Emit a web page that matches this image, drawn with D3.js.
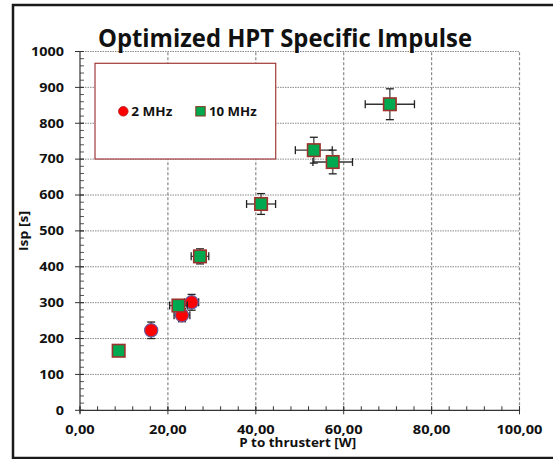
<!DOCTYPE html>
<html><head><meta charset="utf-8">
<script src="https://cdn.jsdelivr.net/npm/d3@7"></script>
<style>
html,body{margin:0;padding:0;background:#fff;}
svg text{font-family:"Open Sans",sans-serif;font-weight:700;fill:#111;}
</style></head>
<body>
<svg id="c" width="553" height="459"></svg>
<script>
// ---- data ----
const titleText = "Optimized HPT Specific Impulse";
const xLabel = "P to thrustert [W]";
const yLabel = "Isp [s]";
const seriesNames = ["2 MHz", "10 MHz"];
const xTicks = [0, 20, 40, 60, 80, 100];
const yTicks = [0, 100, 200, 300, 400, 500, 600, 700, 800, 900, 1000];
const mhz2X    = [16.2, 23.2, 25.4];
const mhz2Y    = [223, 265, 301];
const mhz2XErr = [0, 1.8, 1.6];
const mhz2YErr = [23, 18, 22];
const mhz10X    = [8.8, 22.4, 27.3, 41.2, 53.2, 57.5, 70.5];
const mhz10Y    = [166, 292, 429, 575, 725, 692, 853];
const mhz10XErr = [0, 2.0, 2.0, 3.3, 4.2, 4.5, 5.6];
const mhz10YErr = [0, 10, 21, 29, 36, 33, 43];

const svg = d3.select("#c");
const x = d3.scaleLinear().domain([0, 100]).range([80, 519.5]);
const y = d3.scaleLinear().domain([0, 1000]).range([410.3, 51.5]);

function stretch(sel, f){
  sel.each(function(){
    const w = this.getComputedTextLength();
    d3.select(this).attr("textLength", w*f).attr("lengthAdjust","spacingAndGlyphs");
  });
}

// outer frame
svg.append("rect").attr("x",13).attr("y",5).attr("width",600).attr("height",453)
  .attr("fill","#fff").attr("stroke","#1a1a1a").attr("stroke-width",2.5);

// gridlines
const g = svg.append("g");
g.selectAll("line.h").data(yTicks.slice(1)).join("line")
  .attr("x1", x(0)).attr("x2", x(100)).attr("y1", d=>y(d)).attr("y2", d=>y(d))
  .attr("stroke","#8a8a8a").attr("stroke-width",1).attr("stroke-dasharray","1.5,1");
g.selectAll("line.v").data(xTicks.slice(1)).join("line")
  .attr("x1", d=>x(d)).attr("x2", d=>x(d)).attr("y1", y(0)).attr("y2", y(1000))
  .attr("stroke","#8a8a8a").attr("stroke-width",1.2).attr("stroke-dasharray","3,2");

// axes
const xMinor = d3.range(0, 100.01, 4);
const yMinor = d3.range(0, 1000.01, 20);
const ax = svg.append("g");
ax.selectAll("line.xm").data(xMinor).join("line")
  .attr("x1", d=>x(d)).attr("x2", d=>x(d)).attr("y1", y(0)).attr("y2", y(0)-4)
  .attr("stroke","#333").attr("stroke-width",1);
ax.selectAll("line.xM").data(xTicks).join("line")
  .attr("x1", d=>x(d)).attr("x2", d=>x(d)).attr("y1", y(0)-4).attr("y2", y(0)+4)
  .attr("stroke","#333").attr("stroke-width",1);
ax.selectAll("line.ym").data(yMinor).join("line")
  .attr("x1", x(0)).attr("x2", x(0)+4).attr("y1", d=>y(d)).attr("y2", d=>y(d))
  .attr("stroke","#555").attr("stroke-width",1);
ax.selectAll("line.yM").data(yTicks).join("line")
  .attr("x1", x(0)-5).attr("x2", x(0)+4).attr("y1", d=>y(d)).attr("y2", d=>y(d))
  .attr("stroke","#333").attr("stroke-width",1);
ax.append("line").attr("x1",x(0)).attr("x2",x(100)).attr("y1",y(0)).attr("y2",y(0))
  .attr("stroke","#333").attr("stroke-width",1.2);
ax.append("line").attr("x1",x(0)).attr("x2",x(0)).attr("y1",y(0)+3).attr("y2",y(1000))
  .attr("stroke","#333").attr("stroke-width",1.2);

const fmtX = d => d3.format(".2f")(d).replace(".", ",");
const xl = ax.selectAll("text.xt").data(xTicks).join("text")
  .attr("x", d=>x(d)).attr("y", 433.5).attr("text-anchor","middle")
  .attr("font-size", 12.5).text(fmtX);
stretch(xl, 1.17);
const yl = ax.selectAll("text.yt").data(yTicks).join("text")
  .attr("x", 64).attr("y", d=>y(d)+4.3).attr("text-anchor","end")
  .attr("font-size", 12.5).text(d=>d);
stretch(yl, 1.15);

// titles
const t = svg.append("text").attr("x", 285).attr("y", 46.5).attr("text-anchor","middle")
  .attr("font-size", 25.5).text(titleText);
t.attr("textLength", 374).attr("lengthAdjust","spacingAndGlyphs");
const xt = svg.append("text").attr("x", 297.7).attr("y", 447).attr("text-anchor","middle")
  .attr("font-size", 12.5).text(xLabel);
xt.attr("textLength", 117).attr("lengthAdjust","spacingAndGlyphs");
const yt = svg.append("text").attr("transform","translate(27.5,231) rotate(-90)")
  .attr("text-anchor","middle").attr("font-size", 12.5).text(yLabel);
yt.attr("textLength", 40).attr("lengthAdjust","spacingAndGlyphs");

// legend
const lg = svg.append("g");
lg.append("rect").attr("x",95).attr("y",63.3).attr("width",180.7).attr("height",95.7)
  .attr("fill","#fff").attr("stroke","#a03a3a").attr("stroke-width",1.2);
lg.append("circle").attr("cx",123.3).attr("cy",111.3).attr("r",4.8)
  .attr("fill","#f00").attr("stroke","#b02020").attr("stroke-width",0.8);
const l1 = lg.append("text").attr("x",131.3).attr("y",115.5).attr("font-size",12).text(seriesNames[0]);
l1.attr("textLength",41).attr("lengthAdjust","spacingAndGlyphs");
lg.append("rect").attr("x",195.8).attr("y",106.6).attr("width",9.4).attr("height",9.4)
  .attr("fill","#00a84f").attr("stroke","#8a3a20").attr("stroke-width",1);
const l2 = lg.append("text").attr("x",209).attr("y",115.5).attr("font-size",12).text(seriesNames[1]);
l2.attr("textLength",47.7).attr("lengthAdjust","spacingAndGlyphs");

// error bars + markers
function drawSeries(xs, ys, xe, ye, kind){
  const data = xs.map((v,i)=>({x:v, y:ys[i], xe:xe[i], ye:ye[i]}));
  const eg = svg.append("g");
  const cap = 4;
  data.forEach(d=>{
    if (d.ye > 0){
      eg.append("line").attr("x1",x(d.x)).attr("x2",x(d.x)).attr("y1",y(d.y-d.ye)).attr("y2",y(d.y+d.ye))
        .attr("stroke","#666").attr("stroke-width",1.6);
      [d.y-d.ye, d.y+d.ye].forEach(v=>eg.append("line").attr("x1",x(d.x)-cap).attr("x2",x(d.x)+cap)
        .attr("y1",y(v)).attr("y2",y(v)).attr("stroke","#222").attr("stroke-width",1.3));
    }
    if (d.xe > 0){
      eg.append("line").attr("x1",x(d.x-d.xe)).attr("x2",x(d.x+d.xe)).attr("y1",y(d.y)).attr("y2",y(d.y))
        .attr("stroke","#333").attr("stroke-width",1.3);
      [d.x-d.xe, d.x+d.xe].forEach(v=>eg.append("line").attr("x1",x(v)).attr("x2",x(v))
        .attr("y1",y(d.y)-cap).attr("y2",y(d.y)+cap).attr("stroke","#222").attr("stroke-width",1.3));
    }
  });
  const mg = svg.append("g");
  if (kind === "circle"){
    mg.selectAll("circle").data(data).join("circle")
      .attr("cx", d=>x(d.x)).attr("cy", d=>y(d.y)).attr("r", 6.6)
      .attr("fill","#f00").attr("stroke","#6a5a9c").attr("stroke-width",1.2);
  } else {
    const s = 12.5;
    mg.selectAll("rect").data(data).join("rect")
      .attr("x", d=>x(d.x)-s/2).attr("y", d=>y(d.y)-s/2).attr("width", s).attr("height", s)
      .attr("fill","#00a84f").attr("stroke","#a0322d").attr("stroke-width",1.6);
  }
}
drawSeries(mhz2X, mhz2Y, mhz2XErr, mhz2YErr, "circle");
drawSeries(mhz10X, mhz10Y, mhz10XErr, mhz10YErr, "square");
</script>
</body></html>
